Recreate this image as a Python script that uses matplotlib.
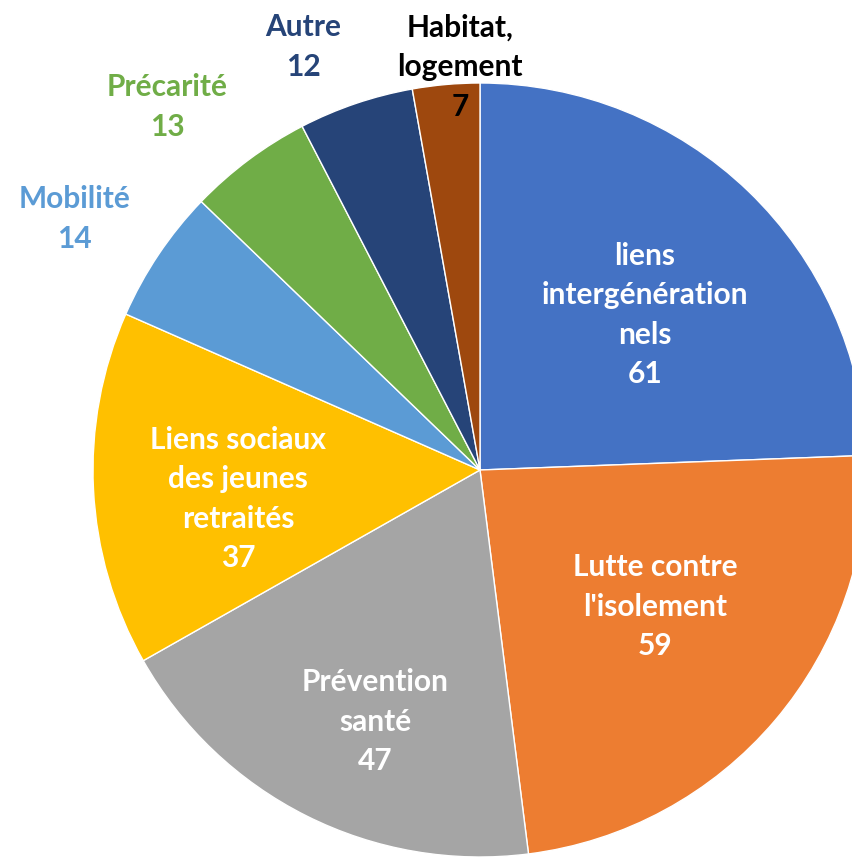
import matplotlib
import matplotlib.pyplot as plt
# Rendu sans interface graphique
matplotlib.use('Agg')

# Données du graphique
categories = ["liens\nintergénération\nnels", "Lutte contre\nl'isolement", "Prévention\nsanté",
              "Liens sociaux\ndes jeunes\nretraités", "Mobilité", "Précarité", "Autre",
              "Habitat,\nlogement"]
values = [61, 59, 47, 37, 14, 13, 12, 7]
colors = ['#4472C4', '#ED7D31', '#A5A5A5', '#FFC000', '#5B9BD5', '#70AD47', '#264478', '#9E480E']
label_colors = ['white', 'white', 'white', 'white', '#5B9BD5', '#70AD47', '#264478', 'black']

# Positions des étiquettes (unités du rayon)
label_pos = [(0.426, 0.40), (0.452, -0.354), (-0.271, -0.651), (-0.625, -0.075),
             (-1.047, 0.649), (-0.809, 0.938), (-0.457, 1.093), (-0.052, 1.041)]

plt.rcParams['font.family'] = ['Lato', 'DejaVu Sans']

fig = plt.figure(figsize=(8.53, 8.63), dpi=100)
ax = fig.add_axes([0, 0, 1, 1])
ax.pie(values, colors=colors, startangle=90, counterclock=False,
       wedgeprops=dict(edgecolor='white', linewidth=1.0))
ax.set_xlim(-480 / 387, (853 - 480) / 387)
ax.set_ylim((470 - 863) / 387, 470 / 387)
ax.axis('off')

for cat, val, (x, y), c in zip(categories, values, label_pos, label_colors):
    ax.text(x, y, f"{cat}\n{val}", ha='center', va='center', color=c,
            fontsize=21.5, fontweight='bold', linespacing=1.5)

fig.savefig('out.png', dpi=100)
plt.close()
